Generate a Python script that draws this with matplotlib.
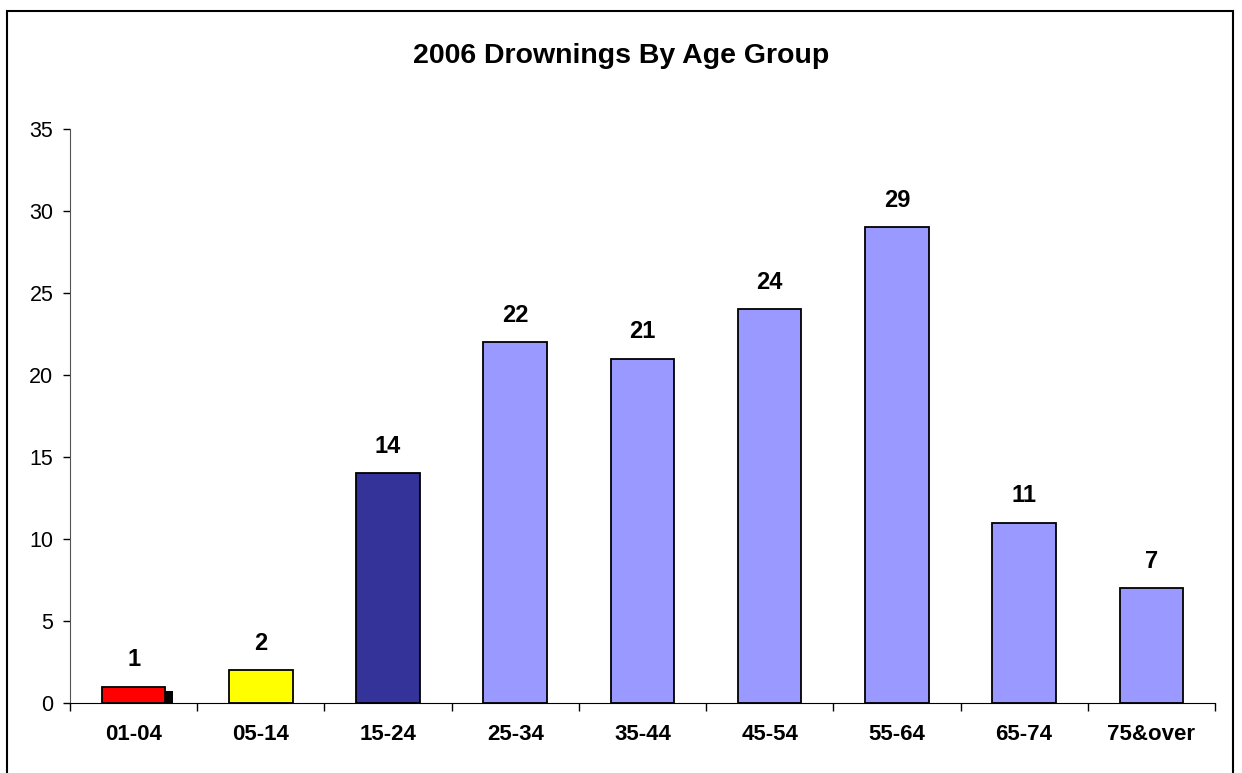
import matplotlib.pyplot as plt
from matplotlib.patches import Rectangle

# data
age_groups = ['01-04', '05-14', '15-24', '25-34', '35-44', '45-54', '55-64', '65-74', '75&over']
drownings = [1, 2, 14, 22, 21, 24, 29, 11, 7]
bar_colors = ['#FF0000', '#FFFF00', '#333399', '#9999FF', '#9999FF',
              '#9999FF', '#9999FF', '#9999FF', '#9999FF']

plt.rcParams['font.family'] = ['Liberation Sans', 'DejaVu Sans']

fig = plt.figure(figsize=(12.42, 7.73), dpi=100)
ax = fig.add_axes([0.0564, 0.0905, 0.9218, 0.7425])

x = list(range(len(age_groups)))

# little black shadow next to the first bar
ax.bar(x[0] + 0.28, drownings[0] * 0.75, width=0.06, color='black', zorder=1)

bars = ax.bar(x, drownings, width=0.5, color=bar_colors, edgecolor='black',
              linewidth=1.3, zorder=2)

for xi, v in zip(x, drownings):
    ax.annotate(str(v), (xi, v), xytext=(0, 11), textcoords='offset points',
                ha='center', va='bottom', fontsize=17, fontweight='bold')

ax.set_xlim(-0.5, len(age_groups) - 0.5)
ax.set_ylim(0, 35)
ax.set_yticks(range(0, 36, 5))
ax.tick_params(axis='y', labelsize=15.5, length=5, width=1, direction='out', pad=7)

# category labels centred, ticks at category borders
ax.set_xticks(x)
ax.set_xticklabels(age_groups, fontsize=16, fontweight='bold')
ax.tick_params(axis='x', length=0, pad=15)
ax.set_xticks([i - 0.5 for i in range(len(age_groups) + 1)], minor=True)
ax.tick_params(axis='x', which='minor', length=6, width=1, direction='out')

ax.spines['top'].set_visible(False)
ax.spines['right'].set_visible(False)
ax.spines['left'].set_color('#555555')
ax.spines['bottom'].set_color('black')

fig.text(0.5, 0.928, '2006 Drownings By Age Group', ha='center', va='center',
         fontsize=20.5, fontweight='bold')

# chart area frame
fig.patches.append(Rectangle((0.0056, -0.02), 0.987, 1.0058, transform=fig.transFigure,
                             fill=False, edgecolor='black', linewidth=1.5))

fig.savefig('out.png', dpi=100)
